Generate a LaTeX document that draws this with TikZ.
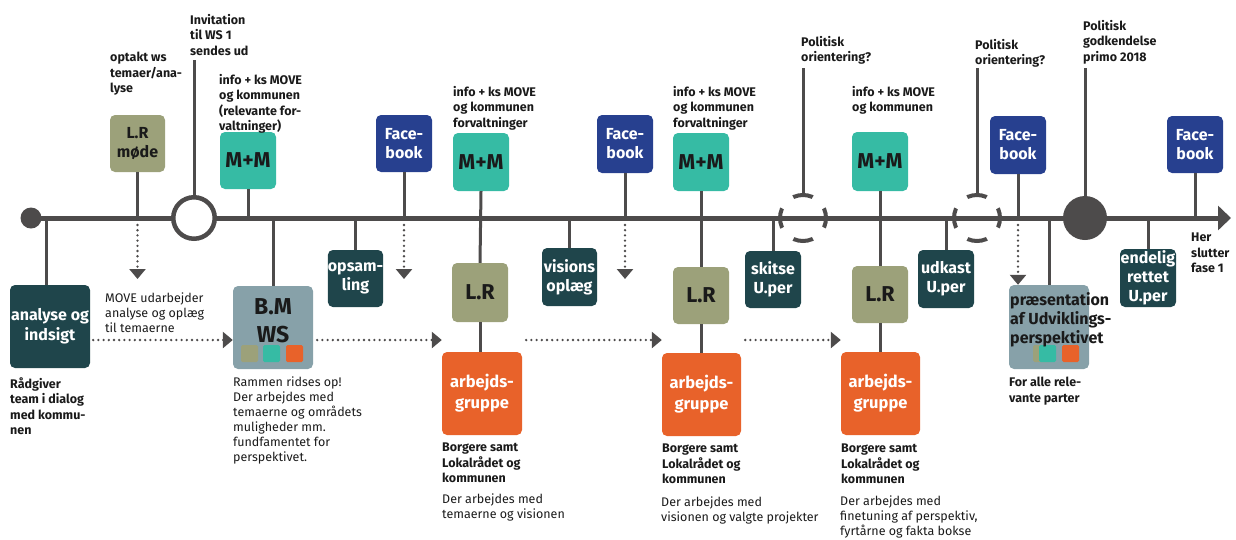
\documentclass[tikz,border=0pt]{standalone}
\usepackage{fontspec}
\setmainfont{Fira Sans}
\usetikzlibrary{arrows.meta}
\definecolor{lc}{HTML}{4D4B4B}
\definecolor{dk}{HTML}{1F454B}
\definecolor{ol}{HTML}{9CA17A}
\definecolor{mt}{HTML}{36BBA4}
\definecolor{nv}{HTML}{27408F}
\definecolor{og}{HTML}{E8622A}
\definecolor{gb}{HTML}{87A1A9}
\definecolor{tx}{HTML}{1A1A1A}
\begin{document}
\begin{tikzpicture}[x=1pt,y=-1pt,
  ln/.style={draw=lc, line width=3pt},
  dotl/.style={draw=lc, line width=2.6pt, line cap=round, dash pattern=on 0pt off 5.2pt, -{Triangle[length=10pt,width=16pt,line cap=butt]}},
  box/.style={rounded corners=5pt, inner sep=0pt, minimum width=56pt, minimum height=57pt, align=center},
  bigbox/.style={box, minimum width=80pt, minimum height=83pt},
  sq/.style={rounded corners=1.5pt, minimum size=17pt, inner sep=0pt},
  wt/.style={box, text=white, font=\fontsize{16}{19}\selectfont\bfseries},
  bt/.style={box, text=tx, font=\fontsize{21.5}{26}\selectfont\bfseries},
  lbl/.style={anchor=north west, inner sep=0pt, align=left, text=tx, font=\fontsize{12.5}{15.5}\selectfont\bfseries},
  note/.style={anchor=north west, inner sep=0pt, align=left, text=tx, font=\fontsize{12.5}{15}\selectfont},
]
\useasboundingbox (0,0) rectangle (1236,539);
% timeline
\coordinate (ts) at (31,218);
\coordinate (te) at (1231,218);
\coordinate (tl) at (0,218);
\coordinate (dy) at (0,279);
\coordinate (dz) at (0,225);
\coordinate (ar) at (0,340);
\coordinate (top1) at (0,60);
\coordinate (top2) at (0,68);
\draw[draw=lc, line width=5pt, -{Triangle[length=13pt,width=24pt]}] (ts) -- (te);
\node[circle, fill=lc, minimum size=21pt, inner sep=0pt] (st) at (ts) {};

% circles
\node[circle, draw=lc, line width=4.5pt, fill=white, minimum size=41.5pt, inner sep=0pt] (inv) at (194,218) {};
\node[circle, draw=lc, line width=4pt, minimum size=46pt, inner sep=0pt, dash pattern=on 20pt off 16.13pt, dash phase=10pt] (po1) at (803,218) {};
\node[circle, draw=lc, line width=4pt, minimum size=46pt, inner sep=0pt, dash pattern=on 20pt off 16.13pt, dash phase=10pt] (po2) at (977,218) {};
\node[circle, fill=lc, minimum size=44pt, inner sep=0pt] (pg) at (1085,218) {};

% boxes above
\node[box, fill=ol, text=tx, font=\fontsize{16}{19}\selectfont\bfseries, minimum width=55pt] (lrm) at (137.5,143.5) {L.R\\møde};
\node[bt, fill=mt] (mm1) at (248,160.5) {M+M};
\node[wt, fill=nv] (fb1) at (404,143.5) {Face-\\book};
\node[bt, fill=mt, minimum height=58pt] (mm2) at (481,162) {M+M};
\node[wt, fill=nv, minimum height=58pt] (fb2) at (625,144) {Face-\\book};
\node[bt, fill=mt, minimum height=58pt] (mm3) at (701,162) {M+M};
\node[bt, fill=mt, minimum height=59pt] (mm4) at (880,161.5) {M+M};
\node[wt, fill=nv, minimum height=58pt] (fb3) at (1018,145) {Face-\\book};
\node[wt, fill=nv] (fb4) at (1195,144.5) {Face-\\book};

% boxes below
\node[wt, fill=dk, minimum width=55pt] (ops) at (355.5,278.5) {opsam-\\ling};
\node[wt, fill=dk, minimum width=55pt, minimum height=58pt] (vis) at (569.5,277) {visions\\oplæg};
\node[wt, fill=dk] (ski) at (773,279.5) {skitse\\U.per};
\node[wt, fill=dk, minimum height=58pt] (udk) at (946,279) {udkast\\U.per};
\node[wt, fill=dk, minimum height=58pt] (end) at (1148,278) {endelig\\rettet\\U.per};
\node[bt, fill=ol, minimum height=59pt] (lr2) at (480,292.5) {L.R};
\node[bt, fill=ol] (lr3) at (701,295.5) {L.R};
\node[bt, fill=ol] (lr4) at (880,294.5) {L.R};

\node[bigbox, fill=dk, text=white, font=\fontsize{16}{20}\selectfont\bfseries] (ana) at (50,326.5) {analyse og\\indsigt};
\node[bigbox, fill=gb] (bm) at (273,327.5) {};
\node[inner sep=0pt, align=center, text=tx, font=\fontsize{23}{28}\selectfont\bfseries] (bmt) at (273,321) {B.M\\WS};
\node[sq, fill=ol] (s1) at (249.5,353.5) {};
\node[sq, fill=mt] (s2) at (271.5,353.5) {};
\node[sq, fill=og] (s3) at (294.5,353.5) {};

\node[bigbox, fill=og, text=white, font=\fontsize{16.5}{21}\selectfont\bfseries] (ag1) at (482,393.5) {arbejds-\\gruppe};
\node[bigbox, fill=og, text=white, font=\fontsize{16.5}{21}\selectfont\bfseries, minimum width=79pt] (ag2) at (701.5,394.5) {arbejds-\\gruppe};
\node[bigbox, fill=og, text=white, font=\fontsize{16.5}{21}\selectfont\bfseries, minimum width=79pt] (ag3) at (880.5,393.5) {arbejds-\\gruppe};

\node[bigbox, fill=gb, minimum height=84pt] (pre) at (1049,327) {};
\node[sq, fill=ol] (s4) at (1041.5,353.5) {};
\node[sq, fill=mt] (s5) at (1047.5,353.5) {};
\node[sq, fill=og] (s6) at (1070.5,353.5) {};
\node[anchor=north west, inner sep=0pt, align=left, text=tx, font=\fontsize{16}{19}\selectfont\bfseries] (pret) at (1010,292) {præsentation\\af Udviklings-\\perspektivet};

% connectors: solid
\draw[ln] (lrm.south) -- (lrm.south |- tl);
\draw[ln] (inv.north |- top1) -- (inv.north);
\draw[ln] (mm1.south) -- (mm1.south |- tl);
\draw[ln] (bm.north |- tl) -- (bm.north);
\draw[ln] (ana.north |- tl) ++(-4,0) -- (ana.north -| 46,0);
\draw[ln] (fb1.south) -- (fb1.south |- tl);
\draw[ln] (ops.north |- tl) -- (ops.north);
\draw[ln] (mm2.south) -- (lr2.north);
\draw[ln] (lr2.south) -- (lr2.south |- ag1.north);
\draw[ln] (vis.north |- tl) -- (vis.north);
\draw[ln] (fb2.south) -- (fb2.south |- tl);
\draw[ln] (mm3.south) -- (lr3.north);
\draw[ln] (lr3.south) -- (ag2.north -| lr3.south);
\draw[ln] (ski.north |- tl) -- (ski.north);
\draw[ln] (po1.north |- top2) -- (po1.north);
\draw[ln] (mm4.south) -- (lr4.north);
\draw[ln] (lr4.south) -- (ag3.north -| lr4.south);
\draw[ln] (udk.north |- tl) -- (udk.north);
\draw[ln] (po2.north |- top2) -- (po2.north);
\draw[ln] (fb3.south) -- (fb3.south |- tl);
\draw[ln] (pre.north |- tl) -- (pre.north);
\draw[ln] (pg.north |- top2) -- (pg.north);
\draw[ln] (end.north |- tl) -- (end.north);
\draw[ln] (fb4.south) -- (fb4.south |- tl);

% connectors: dotted
\draw[dotl] (lrm.south |- dz) -- (lrm.south |- dy);
\draw[dotl] (fb1.south |- dz) -- (fb1.south |- dy);
\draw[dotl] (fb2.south |- dz) -- (fb2.south |- dy);
\draw[dotl] (fb3.south |- dz) -- (pre.north -| fb3.south);
\draw[dotl] (ana.east |- ar) ++(3,0) -- (bm.west |- ar);
\draw[dotl] (bm.east |- ar) ++(4,0) -- (ag1.west |- ar);
\draw[dotl] (ag1.east |- ar) ++(4,0) -- (ag2.west |- ar);
\draw[dotl] (ag2.east |- ar) ++(4,0) -- (ag3.west |- ar);

% labels
\node[lbl] (l1) at (110,52) {optakt ws\\temaer/ana-\\lyse};
\node[lbl] (l2) at (190,14) {Invitation\\til WS 1\\sendes ud};
\node[lbl] (l3) at (219,74) {info + ks MOVE\\og kommunen\\(relevante for-\\valtninger)};
\node[lbl] (l4) at (453,86) {info + ks MOVE\\og kommunen\\forvaltninger};
\node[lbl] (l5) at (673,86) {info + ks MOVE\\og kommunen\\forvaltninger};
\node[lbl] (l6) at (801,36) {Politisk\\orientering?};
\node[lbl] (l7) at (852,86) {info + ks MOVE\\og kommunen};
\node[lbl] (l8) at (975,39) {Politisk\\orientering?};
\node[lbl] (l9) at (1083,20) {Politisk\\godkendelse\\primo 2018};
\node[lbl] (l10) at (1191,233) {Her\\slutter\\fase 1};
\node[lbl] (l11) at (10,377) {Rådgiver\\team i dialog\\med kommu-\\nen};
\node[note] (l12) at (105,293) {MOVE udarbejder\\analyse og oplæg\\til temaerne};
\node[note] (l13) at (233,377) {Rammen ridses op!\\Der arbejdes med\\temaerne og områdets\\muligheder mm.\\fundfamentet for\\perspektivet.};
\node[lbl] (l14) at (442,443) {Borgere samt\\Lokalrådet og\\kommunen};
\node[note] (l15) at (442,494) {Der arbejdes med\\temaerne og visionen};
\node[lbl] (l16) at (662,444) {Borgere samt\\Lokalrådet og\\kommunen};
\node[note] (l17) at (661,497) {Der arbejdes med\\visionen og valgte projekter};
\node[lbl] (l18) at (841,444) {Borgere samt\\Lokalrådet og\\kommunen};
\node[note] (l19) at (840,496) {Der arbejdes med\\finetuning af perspektiv,\\fyrtårne og fakta bokse};
\node[lbl] (l20) at (1009,377) {For alle rele-\\vante parter};
\end{tikzpicture}
\end{document}
